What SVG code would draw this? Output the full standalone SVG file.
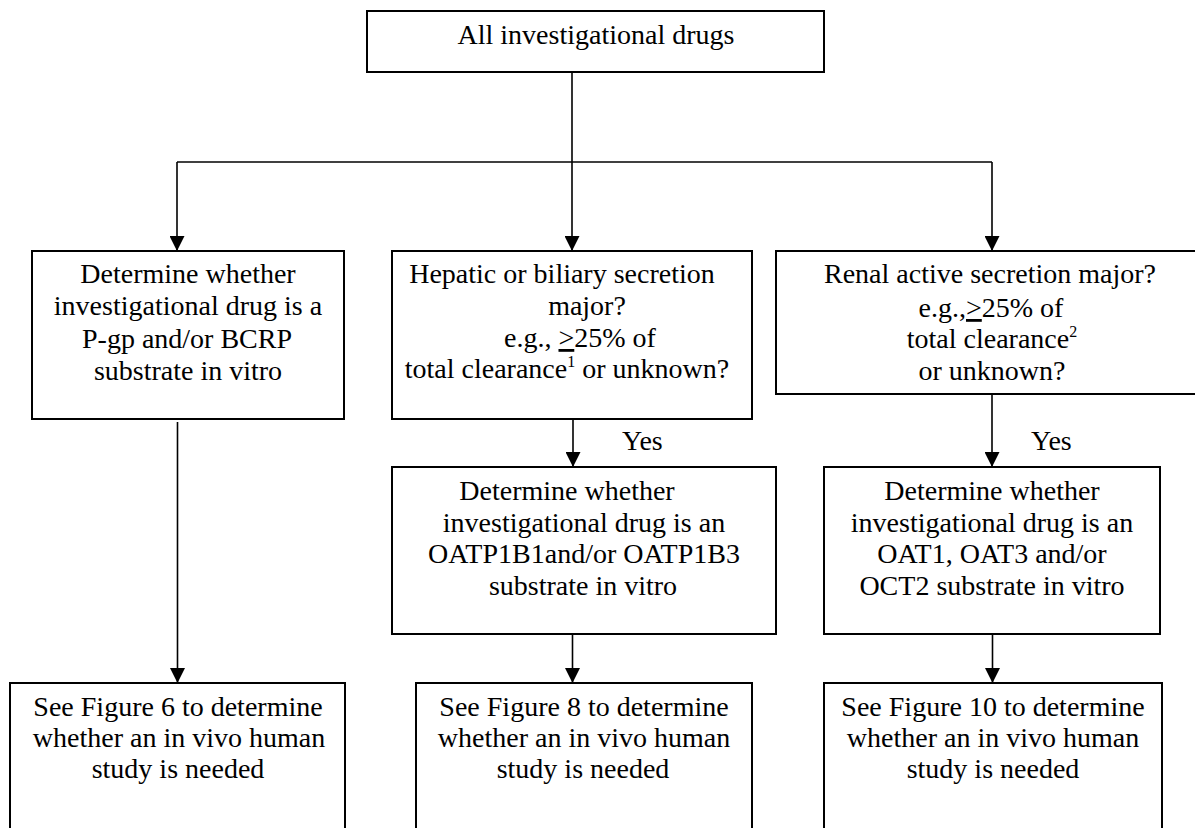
<svg xmlns="http://www.w3.org/2000/svg" width="1195" height="828" viewBox="0 0 1195 828">
<style>
.box{fill:#fff;stroke:#000;stroke-width:2}
text{font-family:'Liberation Serif','Times New Roman',Times,'DejaVu Serif',serif;font-size:28px;fill:#000}
.t{text-anchor:middle}
.sup{font-size:16px}
.u{text-decoration:underline}
.c{fill:none;stroke:#000;stroke-width:1.6}
</style>
<defs>
<marker id="arr" markerUnits="userSpaceOnUse" markerWidth="15" markerHeight="15" viewBox="0 0 15 15" refX="15" refY="7.5" orient="auto">
<path d="M0,0 L15,7.5 L0,15 Z" fill="#000"/>
</marker>
</defs>
<rect width="1195" height="828" fill="#fff"/>
<g id="connectors">
<line class="c" x1="572" y1="72" x2="572" y2="251" marker-end="url(#arr)"/>
<line class="c" x1="177" y1="162" x2="992" y2="162"/>
<line class="c" x1="177" y1="162" x2="177" y2="251" marker-end="url(#arr)"/>
<line class="c" x1="992" y1="162" x2="992" y2="251" marker-end="url(#arr)"/>
<line class="c" x1="573" y1="419" x2="573" y2="467" marker-end="url(#arr)"/>
<line class="c" x1="992" y1="394" x2="992" y2="467" marker-end="url(#arr)"/>
<line class="c" x1="177.5" y1="422" x2="177.5" y2="683" marker-end="url(#arr)"/>
<line class="c" x1="572.5" y1="634" x2="572.5" y2="683" marker-end="url(#arr)"/>
<line class="c" x1="992.5" y1="634" x2="992.5" y2="683" marker-end="url(#arr)"/>
<text font-family="Liberation Serif, serif" x="622" y="450">Yes</text>
<text font-family="Liberation Serif, serif" x="1031" y="450">Yes</text>
</g>
<g id="n-all">
<rect class="box" x="367" y="11" width="457" height="61"/>
<text class="t" font-family="Liberation Serif, serif" x="596" y="44">All investigational drugs</text>
</g>
<g id="n-pgp" font-family="Liberation Serif, serif">
<rect class="box" x="32" y="251" width="312" height="168"/>
<text class="t" x="188" y="283">Determine whether</text>
<text class="t" x="188" y="315">investigational drug is a</text>
<text class="t" x="187" y="348">P-gp and/or BCRP</text>
<text class="t" x="188" y="380">substrate in vitro</text>
</g>
<g id="n-hepatic">
<rect class="box" x="392" y="251" width="360" height="168"/>
<text class="t" x="562" y="283">Hepatic or biliary secretion</text>
<text class="t" x="587" y="315">major?</text>
<text class="t" x="580" y="347">e.g., <tspan class="u">&gt;</tspan>25% of</text>
<text class="t" x="567" y="378">total clearance<tspan class="sup" dy="-11">1</tspan><tspan dy="11"> or unknown?</tspan></text>
</g>
<g id="n-renal">
<rect class="box" x="776" y="251" width="430" height="143"/>
<text class="t" x="990" y="283">Renal active secretion major?</text>
<text class="t" x="991" y="317">e.g.,<tspan class="u">&gt;</tspan>25% of</text>
<text class="t" x="992" y="348">total clearance<tspan class="sup" dy="-11">2</tspan></text>
<text class="t" x="992" y="380">or unknown?</text>
</g>
<g id="n-oatp">
<rect class="box" x="392" y="467" width="384" height="167"/>
<text class="t" x="567" y="500">Determine whether</text>
<text class="t" x="584" y="532">investigational drug is an</text>
<text class="t" x="584" y="563">OATP1B1and/or OATP1B3</text>
<text class="t" x="583" y="595">substrate in vitro</text>
</g>
<g id="n-oat">
<rect class="box" x="824" y="467" width="336" height="167"/>
<text class="t" x="992" y="500">Determine whether</text>
<text class="t" x="992" y="532">investigational drug is an</text>
<text class="t" x="992" y="563">OAT1, OAT3 and/or</text>
<text class="t" x="992" y="595">OCT2 substrate in vitro</text>
</g>
<g id="n-fig6">
<rect class="box" x="10" y="683" width="335" height="160"/>
<text class="t" x="178" y="716">See Figure 6 to determine</text>
<text class="t" x="179" y="747">whether an in vivo human</text>
<text class="t" x="178" y="778">study is needed</text>
</g>
<g id="n-fig8">
<rect class="box" x="416" y="683" width="336" height="160"/>
<text class="t" x="584" y="716">See Figure 8 to determine</text>
<text class="t" x="584" y="747">whether an in vivo human</text>
<text class="t" x="583" y="778">study is needed</text>
</g>
<g id="n-fig10">
<rect class="box" x="824" y="683" width="338" height="160"/>
<text class="t" x="993" y="716">See Figure 10 to determine</text>
<text class="t" x="993" y="747">whether an in vivo human</text>
<text class="t" x="993" y="778">study is needed</text>
</g>
</svg>
